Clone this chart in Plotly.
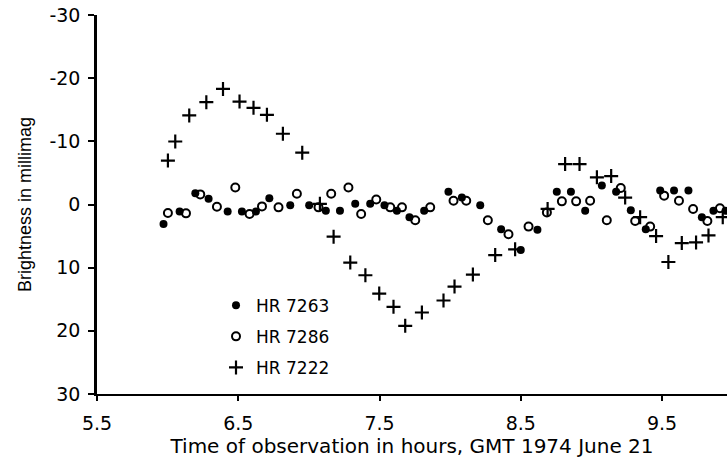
import plotly.graph_objects as go

# HR 7263 (filled circles)
hr7263_t = [5.971, 6.085, 6.196, 6.29, 6.425, 6.526, 6.625, 6.72, 6.868, 7.002,
            7.12, 7.22, 7.328, 7.434, 7.535, 7.623, 7.712, 7.816, 7.988, 8.083,
            8.213, 8.361, 8.5, 8.618, 8.755, 8.855, 8.956, 9.074, 9.175, 9.279,
            9.385, 9.487, 9.585, 9.687, 9.782, 9.864, 9.95]
hr7263_m = [3.1, 1.1, -1.8, -0.9, 1.1, 1.1, 1.1, -1.0, 0.1, 0.1,
            1.0, 1.0, -0.1, -0.1, 0.1, 1.0, 2.0, 1.0, -2.0, -1.1,
            0.1, 3.9, 7.2, 4.0, -2.0, -2.0, 1.0, -3.0, -2.0, 0.9,
            3.9, -2.2, -2.2, -2.2, 2.0, 1.0, 1.0]

# HR 7286 (open circles)
hr7286_t = [6.002, 6.13, 6.231, 6.349, 6.479, 6.58, 6.668, 6.785, 6.915, 7.068,
            7.158, 7.28, 7.37, 7.477, 7.576, 7.659, 7.753, 7.859, 8.024, 8.114,
            8.267, 8.413, 8.555, 8.685, 8.791, 8.892, 8.991, 9.109, 9.208, 9.31,
            9.416, 9.515, 9.62, 9.72, 9.821, 9.91]
hr7286_m = [1.35, 1.4, -1.6, 0.35, -2.7, 1.5, 0.3, 0.45, -1.7, 0.45,
            -1.7, -2.7, 1.5, -0.8, 0.45, 0.45, 2.5, 0.45, -0.6, -0.6,
            2.5, 4.7, 3.5, 1.25, -0.5, -0.5, -0.6, 2.5, -2.6, 2.6,
            3.5, -1.4, -0.6, 0.7, 2.6, 0.6]

# HR 7222 (plus signs)
hr7222_t = [6.002, 6.054, 6.153, 6.274, 6.392, 6.509, 6.608, 6.703, 6.816, 6.953,
            7.078, 7.175, 7.293, 7.4, 7.498, 7.599, 7.682, 7.8, 7.953, 8.031,
            8.161, 8.319, 8.46, 8.69, 8.814, 8.916, 9.039, 9.14, 9.239, 9.345,
            9.458, 9.545, 9.64, 9.741, 9.829, 9.93]
hr7222_m = [-6.95, -9.97, -14.1, -16.2, -18.3, -16.3, -15.3, -14.2, -11.2, -8.2,
            -0.1, 5.1, 9.2, 11.2, 14.1, 16.2, 19.2, 17.1, 15.2, 13.0,
            11.1, 8.0, 7.1, 0.7, -6.4, -6.4, -4.3, -4.5, -1.1, 2.0,
            5.0, 9.1, 6.1, 6.0, 4.9, 2.0]

x_ticks = [5.5, 6.5, 7.5, 8.5, 9.5]
x_ticktext = ["5.5", "6.5", "7.5", "8.5", "9.5"]
y_ticks = [-30, -20, -10, 0, 10, 20, 30]
y_ticktext = ["-30", "-20", "-10", "0", "10", "20", "30"]

FONT = "DejaVu Sans, sans-serif"
FONT_Y = "Liberation Sans, Arial, sans-serif"
X_RANGE = [5.5, 9.96]
Y_RANGE = [30, -30]

fig = go.Figure()
fig.add_trace(go.Scatter(
    x=hr7263_t, y=hr7263_m, mode="markers", name="HR 7263", legendgroup="a",
    marker=dict(symbol="circle", size=8, color="black", line=dict(width=0))))
fig.add_trace(go.Scatter(
    x=hr7286_t, y=hr7286_m, mode="markers", name="HR 7286", legendgroup="b",
    marker=dict(symbol="circle-open", size=8, color="black", line=dict(width=2))))
fig.add_trace(go.Scatter(
    x=hr7222_t, y=hr7222_m, mode="markers", name="HR 7222", legendgroup="c",
    marker=dict(symbol="cross-thin", size=10, color="black",
                line=dict(width=2.2, color="black"))))

fig.update_layout(
    width=727, height=466,
    margin=dict(l=97, r=0, t=15, b=72),
    paper_bgcolor="white", plot_bgcolor="white",
    font=dict(family=FONT, size=19, color="black"),
    showlegend=True,
    legend=dict(x=(216 - 97) / 630, y=(393 - 287) / 378, xanchor="left", yanchor="top",
                bgcolor="rgba(0,0,0,0)", font=dict(size=17, family=FONT),
                traceorder="grouped", tracegroupgap=6, itemwidth=30),
    xaxis=dict(range=X_RANGE, tickvals=x_ticks, ticktext=x_ticktext,
               showgrid=False, zeroline=False, showline=True, linecolor="black",
               linewidth=2, ticks="outside", ticklen=5, tickwidth=1.5, tickcolor="black",
               tickfont=dict(size=19, family=FONT), ticklabelstandoff=6,
               title=dict(text="Time of observation in hours, GMT 1974 June 21",
                          font=dict(size=20, family=FONT), standoff=0)),
    yaxis=dict(range=Y_RANGE, tickvals=y_ticks, ticktext=y_ticktext,
               showgrid=False, zeroline=False, showline=True, linecolor="black",
               linewidth=2.5, ticks="outside", ticklen=6, tickwidth=1.5, tickcolor="black",
               tickfont=dict(size=19, family=FONT), ticklabelstandoff=4,
               title=dict(text="Brightness in millimag",
                          font=dict(size=18, family=FONT_Y), standoff=14)),
    # overlay axes giving the inner half of the crossing tick marks
    xaxis2=dict(overlaying="x", matches="x", range=X_RANGE, tickvals=x_ticks,
                showticklabels=False, ticks="inside", ticklen=5, tickwidth=1.5,
                tickcolor="black", showgrid=False, zeroline=False, showline=False),
    yaxis2=dict(overlaying="y", matches="y", range=Y_RANGE, tickvals=y_ticks,
                showticklabels=False, ticks="inside", ticklen=6, tickwidth=1.5,
                tickcolor="black", showgrid=False, zeroline=False, showline=False),
)

fig.write_html("out.html")
